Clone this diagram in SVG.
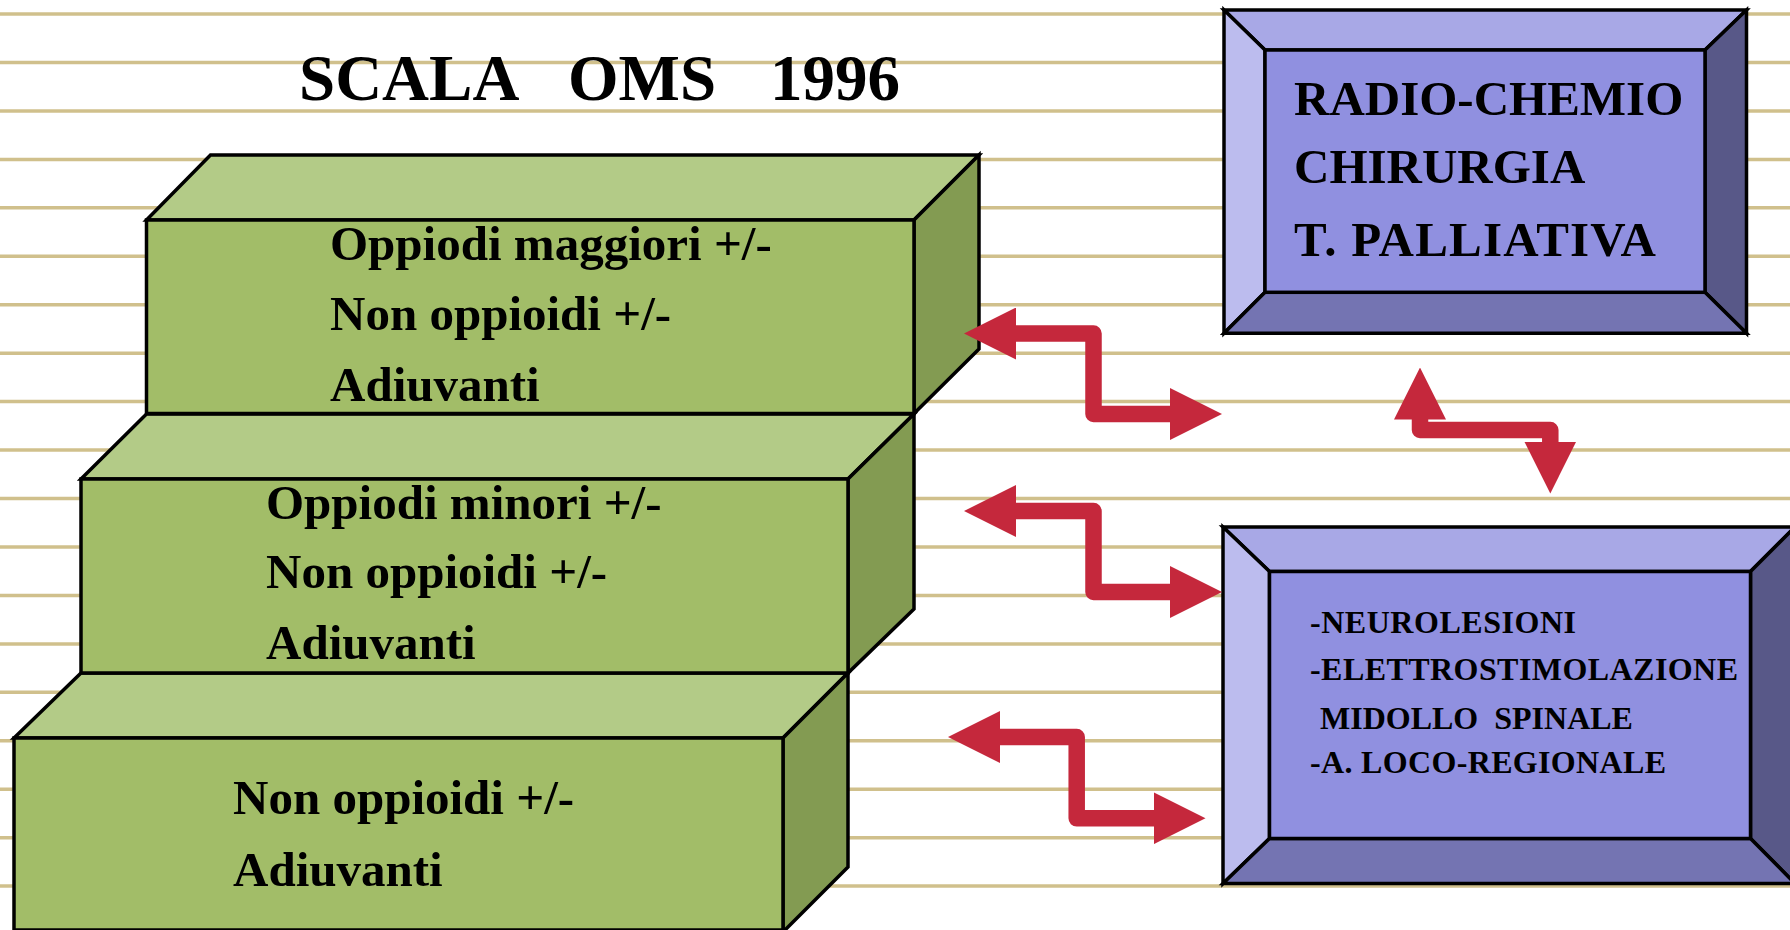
<svg xmlns="http://www.w3.org/2000/svg" width="1790" height="930" viewBox="0 0 1790 930">
<style>
.rule{stroke:#D0C08C;stroke-width:3.5;fill:none}
.edge{stroke:#000;stroke-width:3.5;stroke-linejoin:miter}
.gtop{fill:#B3CB87}
.gfront{fill:#A2BD68}
.gside{fill:#839B52}
.btop{fill:#A8A8E6}
.bleft{fill:#BCBCEE}
.bin{fill:#9090E0}
.bright{fill:#585888}
.bbot{fill:#7474B2}
.t{font-family:"Liberation Serif","Times New Roman",serif;font-weight:bold;fill:#000}
.title{font-size:65px}
.step{font-size:49px}
.big{font-size:49px}
.small{font-size:32px}
.link{fill:none;stroke:#C5283C;stroke-width:16.5;stroke-linejoin:round;marker-start:url(#ah);marker-end:url(#ah)}
</style>
<defs>
<marker id="ah" viewBox="0 0 52 52" markerWidth="52" markerHeight="52" refX="1" refY="26" orient="auto-start-reverse" markerUnits="userSpaceOnUse">
<path d="M0,0 L52,26 L0,52 z" fill="#C5283C"/>
</marker>
</defs>
<rect x="0" y="0" width="1790" height="930" fill="#fff"/>
<g id="rules" class="rule">
<line x1="0" y1="14" x2="1790" y2="14"/>
<line x1="0" y1="62.5" x2="1790" y2="62.5"/>
<line x1="0" y1="110.9" x2="1790" y2="110.9"/>
<line x1="0" y1="159.4" x2="1790" y2="159.4"/>
<line x1="0" y1="207.8" x2="1790" y2="207.8"/>
<line x1="0" y1="256.3" x2="1790" y2="256.3"/>
<line x1="0" y1="304.7" x2="1790" y2="304.7"/>
<line x1="0" y1="353.2" x2="1790" y2="353.2"/>
<line x1="0" y1="401.6" x2="1790" y2="401.6"/>
<line x1="0" y1="450.1" x2="1790" y2="450.1"/>
<line x1="0" y1="498.5" x2="1790" y2="498.5"/>
<line x1="0" y1="547" x2="1790" y2="547"/>
<line x1="0" y1="595.4" x2="1790" y2="595.4"/>
<line x1="0" y1="643.9" x2="1790" y2="643.9"/>
<line x1="0" y1="692.3" x2="1790" y2="692.3"/>
<line x1="0" y1="740.8" x2="1790" y2="740.8"/>
<line x1="0" y1="789.2" x2="1790" y2="789.2"/>
<line x1="0" y1="837.7" x2="1790" y2="837.7"/>
<line x1="0" y1="886.1" x2="1790" y2="886.1"/>
</g>
<g id="title">
<text class="t title" y="100"><tspan x="299">SCALA</tspan><tspan x="568">OMS</tspan><tspan x="770">1996</tspan></text>
</g>
<g id="step-1">
<polygon class="gtop edge" points="14,738 81,673 848,673 783,738"/>
<polygon class="gside edge" points="783,738 848,673 848,867 783,932"/>
<rect class="gfront edge" x="14" y="738" width="769" height="192"/>
<text class="t step" x="233" y="814">Non oppioidi +/-</text>
<text class="t step" x="233" y="886">Adiuvanti</text>
</g>
<g id="step-2">
<polygon class="gtop edge" points="81,479 146.5,414 914,414 848,479"/>
<polygon class="gside edge" points="848,479 914,414 914,609 848,673"/>
<rect class="gfront edge" x="81" y="479" width="767" height="194"/>
<text class="t step" x="266" y="519">Oppiodi minori +/-</text>
<text class="t step" x="266" y="588">Non oppioidi +/-</text>
<text class="t step" x="266" y="659">Adiuvanti</text>
</g>
<g id="step-3">
<polygon class="gtop edge" points="146.5,220 210.5,155 979,155 914,220"/>
<polygon class="gside edge" points="914,220 979,155 979,349 914,413.5"/>
<rect class="gfront edge" x="146.5" y="220" width="767.5" height="193.5"/>
<text class="t step" x="330" y="260">Oppiodi maggiori +/-</text>
<text class="t step" x="330" y="330">Non oppioidi +/-</text>
<text class="t step" x="330" y="401">Adiuvanti</text>
</g>
<g id="box-therapy">
<polygon class="btop edge" points="1224,10 1746.5,10 1705,50 1265,50"/>
<polygon class="bleft edge" points="1224,10 1265,50 1265,292.3 1224,333.3"/>
<polygon class="bright edge" points="1746.5,10 1746.5,333.3 1705,292.3 1705,50"/>
<polygon class="bbot edge" points="1224,333.3 1265,292.3 1705,292.3 1746.5,333.3"/>
<rect class="bin edge" x="1265" y="50" width="440" height="242.3"/>
<text class="t big" x="1294" y="115">RADIO-CHEMIO</text>
<text class="t big" x="1294" y="183">CHIRURGIA</text>
<text class="t big" x="1294" y="256" textLength="362" lengthAdjust="spacing">T. PALLIATIVA</text>
</g>
<g id="box-invasive">
<polygon class="btop edge" points="1223,527 1795,527 1750.5,571.5 1269.5,571.5"/>
<polygon class="bleft edge" points="1223,527 1269.5,571.5 1269.5,838.5 1223,883.5"/>
<polygon class="bright edge" points="1795,527 1795,883.5 1750.5,838.5 1750.5,571.5"/>
<polygon class="bbot edge" points="1223,883.5 1269.5,838.5 1750.5,838.5 1795,883.5"/>
<rect class="bin edge" x="1269.5" y="571.5" width="481" height="267"/>
<text class="t small" x="1310" y="633" textLength="266" lengthAdjust="spacing">-NEUROLESIONI</text>
<text class="t small" x="1310" y="680" textLength="428" lengthAdjust="spacing">-ELETTROSTIMOLAZIONE</text>
<text class="t small" x="1320" y="729" xml:space="preserve">MIDOLLO  SPINALE</text>
<text class="t small" x="1310" y="773" textLength="356" lengthAdjust="spacing">-A. LOCO-REGIONALE</text>
</g>
<g id="connectors">
<path class="link" d="M1015,333.5 H1093.5 V414 H1171"/>
<path class="link" d="M1015,511 H1093.5 V592 H1171"/>
<path class="link" d="M999,737 H1076.7 V818.3 H1154.5"/>
<path class="link" d="M1420,418.5 V430 H1550.3 V442.5"/>
</g>
</svg>
